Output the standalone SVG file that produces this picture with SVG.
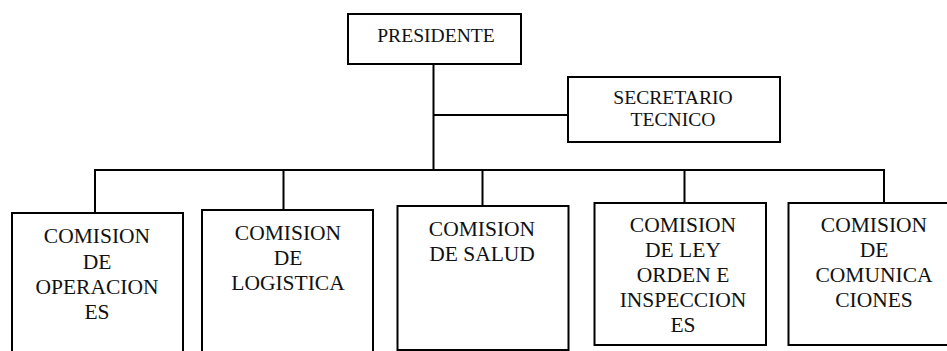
<svg xmlns="http://www.w3.org/2000/svg" width="947" height="351" viewBox="0 0 947 351">
<style>
.box{fill:#fff;stroke:#000;stroke-width:2}
.ln{fill:none;stroke:#000;stroke-width:2}
</style>
<rect width="947" height="351" fill="#fff"/>
<g id="connectors">
<path class="ln" d="M433.5,64 V170 M433.5,115 H568 M95,213 V170 H884 V203 M283.5,210 V170 M482.5,206 V170 M684.5,203 V170"/>
</g>
<g id="presidente">
<rect class="box" x="348" y="14" width="173" height="50"/>
<text x="436" y="42" font-family="Liberation Serif" font-size="19.6" fill="#111" text-anchor="middle">PRESIDENTE</text>
</g>
<g id="secretario">
<rect class="box" x="568" y="77" width="212" height="65"/>
<text x="673" y="104" font-family="Liberation Serif" font-size="19.6" fill="#111" text-anchor="middle">SECRETARIO</text>
<text x="673" y="126" font-family="Liberation Serif" font-size="19.6" fill="#111" text-anchor="middle">TECNICO</text>
</g>
<g id="operaciones">
<path class="box" d="M12,360 V213 H183 V360"/>
<text x="97" y="243" font-family="Liberation Serif" font-size="21.5" fill="#111" text-anchor="middle">COMISION</text>
<text x="97" y="269" font-family="Liberation Serif" font-size="21.5" fill="#111" text-anchor="middle">DE</text>
<text x="97" y="294" font-family="Liberation Serif" font-size="21.5" fill="#111" text-anchor="middle">OPERACION</text>
<text x="97" y="319" font-family="Liberation Serif" font-size="21.5" fill="#111" text-anchor="middle">ES</text>
</g>
<g id="logistica">
<path class="box" d="M202,360 V210 H373 V360"/>
<text x="288" y="240" font-family="Liberation Serif" font-size="21.5" fill="#111" text-anchor="middle">COMISION</text>
<text x="288" y="265" font-family="Liberation Serif" font-size="21.5" fill="#111" text-anchor="middle">DE</text>
<text x="288" y="290" font-family="Liberation Serif" font-size="21.5" fill="#111" text-anchor="middle">LOGISTICA</text>
</g>
<g id="salud">
<rect class="box" x="397.5" y="206" width="171" height="144"/>
<text x="482" y="236" font-family="Liberation Serif" font-size="21.5" fill="#111" text-anchor="middle">COMISION</text>
<text x="482" y="261" font-family="Liberation Serif" font-size="21.5" fill="#111" text-anchor="middle">DE SALUD</text>
</g>
<g id="ley">
<rect class="box" x="594.5" y="203" width="171.5" height="142"/>
<text x="683" y="232" font-family="Liberation Serif" font-size="21.5" fill="#111" text-anchor="middle">COMISION</text>
<text x="683" y="257" font-family="Liberation Serif" font-size="21.5" fill="#111" text-anchor="middle">DE LEY</text>
<text x="683" y="282" font-family="Liberation Serif" font-size="21.5" fill="#111" text-anchor="middle">ORDEN E</text>
<text x="683" y="307" font-family="Liberation Serif" font-size="21.5" fill="#111" text-anchor="middle">INSPECCION</text>
<text x="683" y="332" font-family="Liberation Serif" font-size="21.5" fill="#111" text-anchor="middle">ES</text>
</g>
<g id="comunicaciones">
<path class="box" d="M960,203 H788.5 V345 H960"/>
<text x="874" y="232" font-family="Liberation Serif" font-size="21.5" fill="#111" text-anchor="middle">COMISION</text>
<text x="874" y="257" font-family="Liberation Serif" font-size="21.5" fill="#111" text-anchor="middle">DE</text>
<text x="874" y="282" font-family="Liberation Serif" font-size="21.5" fill="#111" text-anchor="middle">COMUNICA</text>
<text x="874" y="307" font-family="Liberation Serif" font-size="21.5" fill="#111" text-anchor="middle">CIONES</text>
</g>
</svg>
